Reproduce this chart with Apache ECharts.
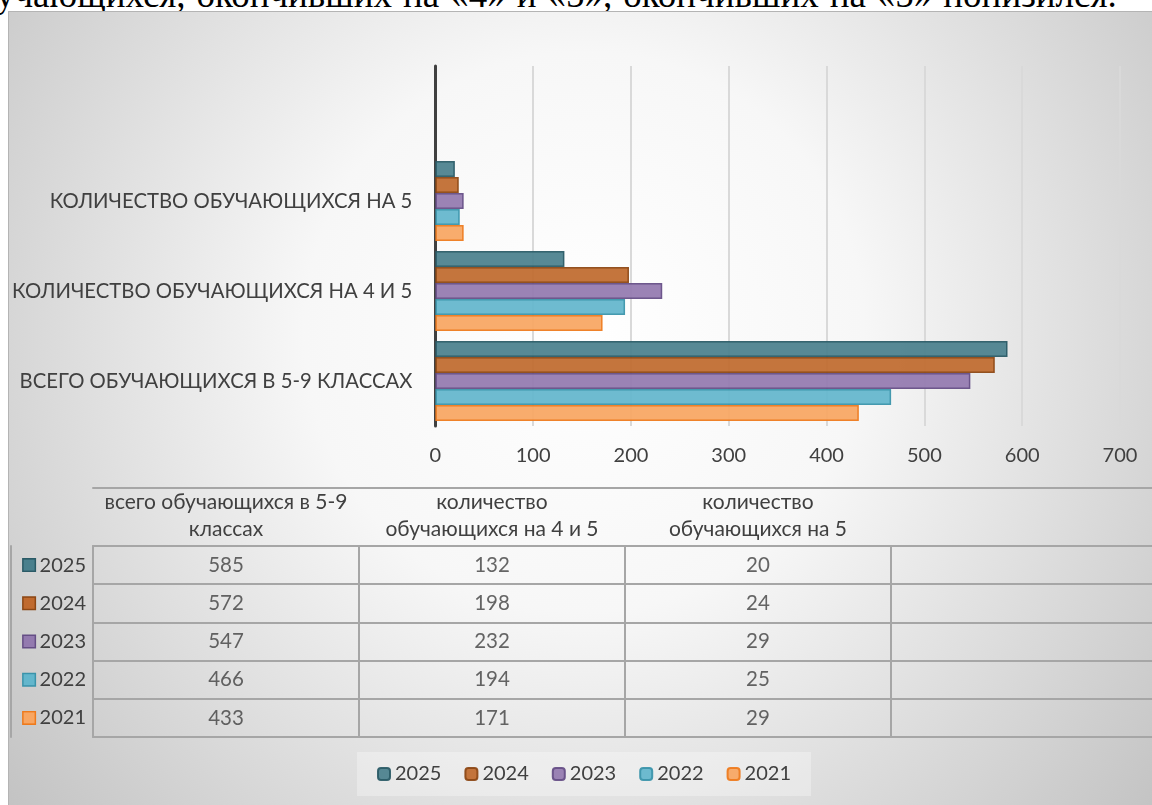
<!DOCTYPE html>
<html>
<head>
<meta charset="utf-8">
<script src="https://cdn.jsdelivr.net/npm/echarts@6/dist/echarts.min.js"></script>
<style>
    html, body { margin: 0; padding: 0; background: #fff; overflow: hidden; }
    #caption {
        position: absolute; left: -4px; top: -24px; white-space: nowrap; word-spacing: 1.7px;
        font-family: "Liberation Serif", serif; font-size: 37px; line-height: 37px; color: #000;
    }
    #chart {
        position: absolute; left: 8px; top: 11px; width: 1150px; height: 800px;
        border-left: 1px solid #b4b4b4; border-top: 1px solid #b4b4b4;
    }
</style>
</head>
<body>
<div id="caption">учающихся, окончивших на «4» и «5», окончивших на «5» понизился.</div>
<div id="chart"></div>
<script>
// данные диаграммы
const categories = ['всего обучающихся в 5-9 классах', 'количество обучающихся на 4 и 5', 'количество обучающихся на 5', ''];
const tableHeaders = ['всего обучающихся в 5-9\nклассах', 'количество\nобучающихся на 4 и 5', 'количество\nобучающихся на 5', ''];
const years = ['2025', '2024', '2023', '2022', '2021'];
const values2025 = [585, 132, 20];
const values2024 = [572, 198, 24];
const values2023 = [547, 232, 29];
const values2022 = [466, 194, 25];
const values2021 = [433, 171, 29];
const xTicks = [0, 100, 200, 300, 400, 500, 600, 700];

const valuesByYear = {
    '2025': values2025, '2024': values2024, '2023': values2023,
    '2022': values2022, '2021': values2021
};
const fills = { '2025': '#4a808d', '2024': '#c06a2e', '2023': '#937aaf', '2022': '#63b6cc', '2021': '#f8a662' };
const borders = { '2025': '#2a5a66', '2024': '#8c4714', '2023': '#654e85', '2022': '#3a93aa', '2021': '#ee7a1c' };

const textColor = '#404040';
const font = 'Lato';

const myChart = echarts.init(document.getElementById('chart'));

// квадратики легенды в подписях строк таблицы
const rowRich = { t: { fontSize: 20, color: textColor, fontFamily: font, padding: [0, 0, 0, 5] } };
years.forEach(y => {
    rowRich['s' + y] = { width: 11, height: 11, backgroundColor: fills[y], borderColor: borders[y], borderWidth: 1.5 };
});

// серии: первая серия рисуется сверху внутри категории
const barSeries = years.map(y => ({
    name: y,
    type: 'bar',
    xAxisIndex: 0,
    yAxisIndex: 0,
    barWidth: 16,
    barGap: '0%',
    data: valuesByYear[y].concat(['-']),
    itemStyle: { color: fills[y], borderColor: borders[y], borderWidth: 1.5, opacity: 0.93 }
}));

// ячейки таблицы данных
const cellData = [];
years.forEach((y, r) => {
    valuesByYear[y].forEach((v, c) => cellData.push([c, r, v]));
});

const option = {
    backgroundColor: {
        type: 'radial', x: 0.5, y: 0.4, r: 1.0,
        colorStops: [
            { offset: 0, color: '#ffffff' },
            { offset: 0.35, color: '#f7f7f7' },
            { offset: 1, color: '#bdbdbd' }
        ]
    },
    textStyle: { fontFamily: font },
    animation: false,
    legend: {
        data: years,
        left: 'center',
        top: 740,
        padding: [12, 20],
        itemWidth: 12,
        itemHeight: 12,
        itemGap: 23,
        backgroundColor: 'rgba(255,255,255,0.3)',
        textStyle: { fontSize: 20, color: textColor, fontFamily: font }
    },
    grid: [
        { left: 426, top: 54, width: 685, height: 360 },
        { left: 84, top: 534, width: 1064, height: 191 }
    ],
    xAxis: [
        {
            type: 'value', gridIndex: 0, min: 0, max: 700, interval: 100,
            axisLine: { show: false }, axisTick: { show: false },
            splitLine: { lineStyle: { color: '#d9d9d9', width: 2 } },
            axisLabel: {
                margin: 20, fontSize: 20, color: textColor,
                formatter: v => xTicks.includes(v) ? String(v) : ''
            }
        },
        {
            type: 'category', gridIndex: 1, position: 'top', data: tableHeaders,
            axisLine: { lineStyle: { color: '#a6a6a6', width: 2 } },
            axisTick: { length: 58, lineStyle: { color: '#a6a6a6', width: 2 } },
            splitLine: { show: true, lineStyle: { color: '#a6a6a6', width: 2 } },
            axisLabel: { margin: 3, fontSize: 21, lineHeight: 27, color: textColor, interval: 0 }
        },
        {
            type: 'category', gridIndex: 1, position: 'top', offset: 58, data: tableHeaders,
            axisLine: { lineStyle: { color: '#a6a6a6', width: 2 } },
            axisTick: { show: false }, axisLabel: { show: false }
        },
        {
            type: 'category', gridIndex: 1, position: 'bottom', data: tableHeaders,
            axisLine: { lineStyle: { color: '#a6a6a6', width: 2 } },
            axisTick: { show: false }, axisLabel: { show: false }
        }
    ],
    yAxis: [
        {
            type: 'category', gridIndex: 0, data: categories,
            axisLine: { lineStyle: { color: '#404040', width: 3 } },
            axisTick: { show: false },
            axisLabel: { margin: 23, fontSize: 20.3, color: textColor, formatter: v => v.toUpperCase() }
        },
        {
            type: 'category', gridIndex: 1, inverse: true, data: years,
            axisLine: { lineStyle: { color: '#a6a6a6', width: 2 } },
            axisTick: { length: 82, lineStyle: { color: '#a6a6a6', width: 2 } },
            splitLine: { show: true, lineStyle: { color: '#a6a6a6', width: 2 } },
            axisLabel: {
                margin: 7,
                formatter: v => '{s' + v + '|}{t|' + v + '}',
                rich: rowRich
            }
        },
        {
            type: 'category', gridIndex: 1, position: 'left', offset: 82, inverse: true, data: years,
            axisLine: { lineStyle: { color: '#a6a6a6', width: 2 } },
            axisTick: { show: false }, axisLabel: { show: false }
        }
    ],
    series: barSeries.concat([
        {
            type: 'scatter',
            xAxisIndex: 1,
            yAxisIndex: 1,
            symbolSize: 0,
            silent: true,
            data: cellData,
            label: {
                show: true, position: 'inside', fontSize: 20.5, color: textColor,
                formatter: p => String(p.value[2])
            }
        }
    ])
};

myChart.setOption(option);
</script>
</body>
</html>
